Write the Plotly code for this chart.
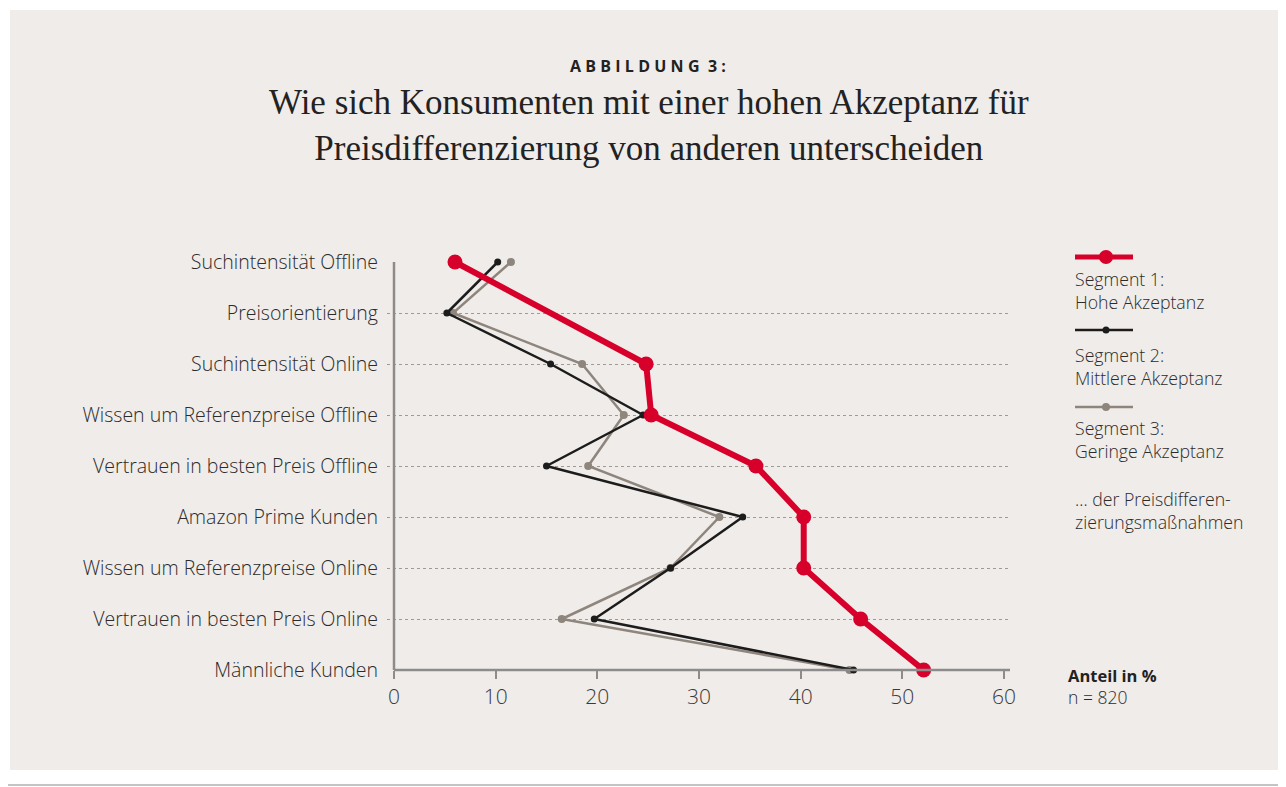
import plotly.graph_objects as go

categories = [
    "Suchintensität Offline",
    "Preisorientierung",
    "Suchintensität Online",
    "Wissen um Referenzpreise Offline",
    "Vertrauen in besten Preis Offline",
    "Amazon Prime Kunden",
    "Wissen um Referenzpreise Online",
    "Vertrauen in besten Preis Online",
    "Männliche Kunden",
]
seg1_hoch = [6.0, None, 24.8, 25.3, 35.6, 40.3, 40.3, 45.9, 52.1]
seg2_mittel = [10.2, 5.2, 15.4, 24.5, 15.0, 34.3, 27.2, 19.7, 45.2]
seg3_gering = [11.5, 5.8, 18.5, 22.6, 19.1, 32.0, 27.2, 16.5, 44.8]
x_ticks = [0, 10, 20, 30, 40, 50, 60]

RED = "#d7002b"
BLACK = "#1c1c1c"
GREY = "#8e857d"
BG = "#f0ece9"
AXIS = "#8c8c8c"
TXT = "#2b2b2b"

OFF = 8  # page body margin offset
W, H = 1286 - OFF, 787 - OFF
# plot area in reference-image pixels
L, R, T, B = 387, 1010, 262, 670


def px(x):
    return (x - L) / (R - L)


def py(y):
    return (B - y) / (B - T)


fig = go.Figure()
fig.add_trace(go.Scatter(x=seg3_gering, y=categories, mode="lines+markers",
                         line=dict(color=GREY, width=2.5), marker=dict(size=8, color=GREY),
                         cliponaxis=False, showlegend=False, name="Segment 3"))
fig.add_trace(go.Scatter(x=seg2_mittel, y=categories, mode="lines+markers",
                         line=dict(color=BLACK, width=2.5), marker=dict(size=7, color=BLACK),
                         cliponaxis=False, showlegend=False, name="Segment 2"))
fig.add_trace(go.Scatter(x=seg1_hoch, y=categories, mode="lines+markers", connectgaps=True,
                         line=dict(color=RED, width=6), marker=dict(size=15, color=RED),
                         cliponaxis=False, showlegend=False, name="Segment 1"))

scale = (1004 - 394) / 60.0
xmin = -(394 - L) / scale
xmax = (R - 394) / scale

shapes = [
    dict(type="rect", xref="paper", yref="paper", x0=px(10), x1=px(1300), y0=py(770), y1=py(10),
         fillcolor=BG, line=dict(width=0), layer="below"),
    dict(type="line", xref="paper", yref="paper", x0=px(0), x1=px(1300), y0=py(785), y1=py(785),
         line=dict(color="#c4c4c4", width=2)),
    dict(type="line", xref="x", yref="paper", x0=0, x1=0, y0=0, y1=1, line=dict(color=AXIS, width=2.5)),
    dict(type="line", xref="x", yref="paper", x0=0, x1=xmax, y0=0, y1=0, line=dict(color=AXIS, width=2.5)),
]

SP = "\u2009\u200a"
annotations = [
    dict(text=SP.join("ABBILDUNG") + SP + " 3" + SP + ":", x=px(648), y=py(66),
         xref="paper", yref="paper", showarrow=False, xanchor="center", yanchor="middle",
         font=dict(family="Open Sans", size=16, color="#222222", weight="bold")),
    dict(text="Wie sich Konsumenten mit einer hohen Akzeptanz für<br>Preisdifferenzierung von anderen unterscheiden",
         x=px(649), y=py(125), xref="paper", yref="paper", showarrow=False, xanchor="center", yanchor="middle",
         font=dict(family="Liberation Serif", size=35, color="#222222")),
    dict(text="<b>Anteil in %</b>", x=px(1066), y=py(675), xref="paper", yref="paper", showarrow=False,
         xanchor="left", yanchor="middle", font=dict(family="Open Sans", size=16.5, color="#222222")),
    dict(text="n = 820", x=px(1066), y=py(697), xref="paper", yref="paper", showarrow=False,
         xanchor="left", yanchor="middle", font=dict(family="Open Sans", size=17.5, color=TXT, weight=300)),
]

legend_items = [
    (257, RED, 5, 7, "Segment 1:<br>Hohe Akzeptanz", 290),
    (330, BLACK, 2.5, 3.5, "Segment 2:<br>Mittlere Akzeptanz", 366),
    (407, GREY, 2.5, 4, "Segment 3:<br>Geringe Akzeptanz", 439),
]
for ly, col, lw, r, txt, ty in legend_items:
    shapes.append(dict(type="line", xref="paper", yref="paper", x0=px(1075), x1=px(1133), y0=py(ly), y1=py(ly),
                       line=dict(color=col, width=lw)))
    shapes.append(dict(type="circle", xref="paper", yref="paper", x0=px(1106 - r), x1=px(1106 + r),
                       y0=py(ly + r), y1=py(ly - r), fillcolor=col, line=dict(width=0)))
    annotations.append(dict(text=txt, x=px(1073), y=py(ty), xref="paper", yref="paper", showarrow=False,
                            xanchor="left", yanchor="middle", align="left",
                            font=dict(family="Open Sans", size=17.7, color=TXT, weight=300)))
annotations.append(dict(text="… der Preisdifferen-<br>zierungsmaßnahmen", x=px(1073), y=py(510),
                        xref="paper", yref="paper", showarrow=False, xanchor="left", yanchor="middle",
                        align="left", font=dict(family="Open Sans", size=17.7, color=TXT, weight=300)))

fig.update_layout(
    width=W, height=H,
    margin=dict(l=L - OFF, r=W - (R - OFF), t=T - OFF, b=H - (B - OFF), pad=0),
    paper_bgcolor="white", plot_bgcolor="rgba(0,0,0,0)",
    shapes=shapes, annotations=annotations,
    xaxis=dict(range=[xmin, xmax], tickvals=x_ticks, showgrid=False, zeroline=False, showline=False,
               ticks="outside", ticklen=8, tickwidth=2, tickcolor=AXIS,
               tickfont=dict(family="Open Sans", size=21, color="#3a3a3a", weight=300)),
    yaxis=dict(categoryorder="array", categoryarray=categories, range=[8, 0],
               showgrid=True, gridcolor="#a09a95", griddash="dot", gridwidth=1,
               zeroline=False, showline=False, ticks="", ticklabelstandoff=8,
               tickfont=dict(family="Open Sans", size=19.5, color=TXT, weight=300)),
    font=dict(family="Open Sans"),
)

fig.write_html("out.html")
